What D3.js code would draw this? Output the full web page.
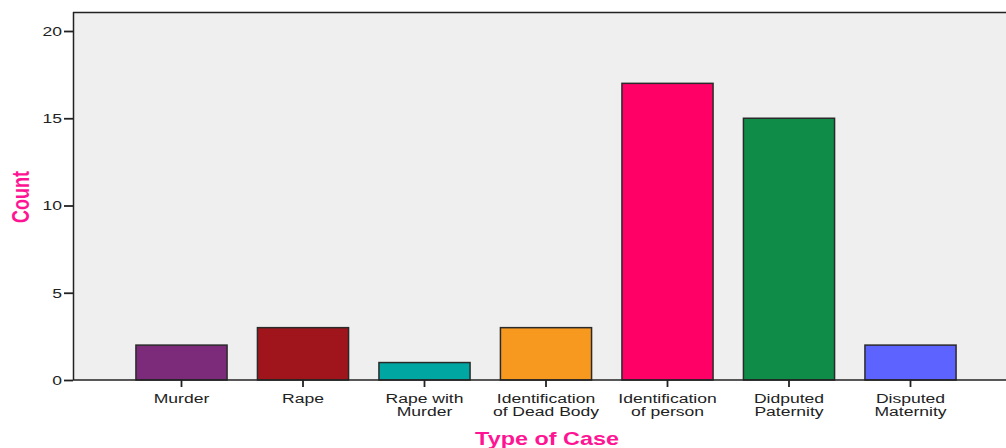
<!DOCTYPE html>
<html><head><meta charset="utf-8">
<script src="https://cdn.jsdelivr.net/npm/d3@7"></script>
<style>
body{margin:0;background:#fff;}
svg{display:block;}
text{font-family:"Liberation Sans",Arial,sans-serif;}
</style></head>
<body><svg id="c" width="1006" height="448"></svg>
<script>
const categories = ["Murder","Rape","Rape with|Murder","Identification|of Dead Body","Identification|of person","Didputed|Paternity","Disputed|Maternity"];
const counts = [2,3,1,3,17,15,2];
const colors = ["#7c2a7a","#a0151c","#00a6a1","#f7981f","#ff0066","#0f8c48","#5c63ff"];
const yTicks = [0,5,10,15,20];

const SX = 1.3; // horizontal stretch of the reference's text
const svg = d3.select("#c");
const mLeft = 73, mTop = 12, mBottom = 380, mRight = 1010;
const y = d3.scaleLinear().domain([0,20]).range([mBottom, 31]);
const x = d3.scaleBand().domain(categories).range([120.75, 971.25]).paddingInner(0.25).paddingOuter(0.125);

svg.append("rect").attr("x",mLeft).attr("y",mTop).attr("width",mRight-mLeft).attr("height",mBottom-mTop).attr("fill","#efefef");
svg.append("line").attr("x1",mLeft).attr("x2",mRight).attr("y1",mTop+0.5).attr("y2",mTop+0.5).attr("stroke","#222").attr("stroke-width",1.5);
svg.append("line").attr("x1",mLeft+0.5).attr("x2",mLeft+0.5).attr("y1",mTop).attr("y2",mBottom).attr("stroke","#222").attr("stroke-width",1.5);

svg.selectAll("rect.bar").data(counts).join("rect").attr("class","bar")
  .attr("x",(d,i)=>x(categories[i])).attr("width",x.bandwidth())
  .attr("y",d=>y(d)).attr("height",d=>mBottom-y(d))
  .attr("fill",(d,i)=>colors[i]).attr("stroke","#2a2a2a").attr("stroke-width",1.5);

// y axis
const ya = svg.append("g").attr("transform",`translate(${mLeft},0)`)
  .call(d3.axisLeft(y).tickValues(yTicks).tickSize(9).tickPadding(2));
ya.select(".domain").remove();
ya.selectAll("line").attr("stroke","#222").attr("stroke-width",1.8);
ya.selectAll("text").attr("x",0).attr("transform",`translate(-11,0) scale(${SX},1)`)
  .attr("font-size",13.5).attr("fill","#222").attr("font-family","Liberation Sans, Arial, sans-serif");

// x axis
svg.append("line").attr("x1",mLeft).attr("x2",mRight).attr("y1",mBottom).attr("y2",mBottom).attr("stroke","#222").attr("stroke-width",1.5);
const xa = svg.append("g").attr("transform",`translate(0,${mBottom})`)
  .call(d3.axisBottom(x).tickSize(7).tickFormat(""));
xa.select(".domain").remove();
xa.selectAll("line").attr("stroke","#222").attr("stroke-width",1.8);
xa.selectAll(".tick").each(function(d){
  const lines = d.split("|");
  const t = d3.select(this).append("text").attr("text-anchor","middle").attr("fill","#222")
    .attr("font-size",13.5).attr("transform",`scale(${SX},1)`);
  lines.forEach((l,i)=>t.append("tspan").attr("x",0).attr("y",23+i*13).text(l));
});

svg.append("text").attr("transform",`translate(29,197) scale(${SX},1) rotate(-90)`).attr("text-anchor","middle")
  .attr("fill","#ff1493").attr("font-weight","bold").attr("font-size",18).text("Count");
svg.append("text").attr("transform",`translate(547,445) scale(${SX},1)`).attr("text-anchor","middle")
  .attr("fill","#ff1493").attr("font-weight","bold").attr("font-size",18).text("Type of Case");
</script></body></html>
